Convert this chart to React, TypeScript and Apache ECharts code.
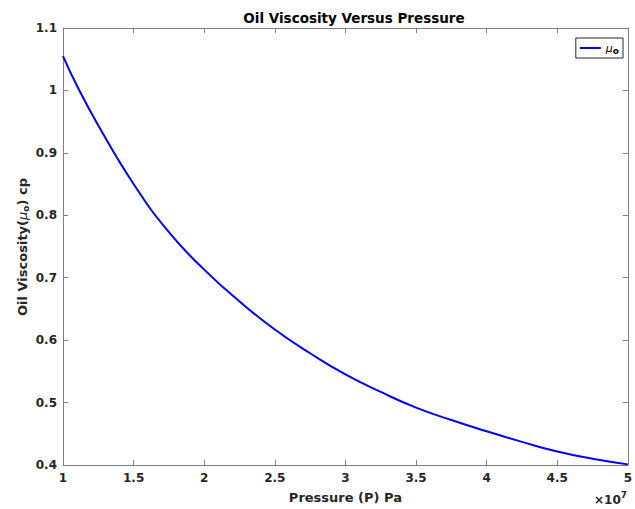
import React, { useEffect, useRef } from "react";
import * as echarts from "echarts";

// Pressure samples, in units of 1e7 Pa
const pressureE7 = [1.0, 1.1, 1.25, 1.5, 1.75, 2.0, 2.25, 2.5, 2.75, 3.0, 3.25, 3.5, 3.75, 4.0, 4.25, 4.5, 4.75, 5.0];
// Oil viscosity, cp
const viscosity = [1.055, 1.007, 0.944, 0.85, 0.773, 0.713, 0.662, 0.617, 0.579, 0.545, 0.517, 0.492, 0.472, 0.454, 0.437, 0.4215, 0.41, 0.401];

const xTicks = [1, 1.5, 2, 2.5, 3, 3.5, 4, 4.5, 5];
const yRange = [0.4, 1.1];
const SCALE = 1e7;

const FONT = "DejaVu Sans";
const INK = "#262626";
const AXIS = "#7f7f7f";

export default function App() {
  const ref = useRef<HTMLDivElement>(null);

  useEffect(() => {
    if (!ref.current) return;
    const chart = echarts.init(ref.current, null, { renderer: "svg" });
    const data = pressureE7.map((p, i) => [p * SCALE, viscosity[i]]);
    const fmtX = (v: number) => String(parseFloat((v / SCALE).toFixed(2)));
    const fmtY = (v: number) => String(parseFloat(v.toFixed(2)));

    const axisLine = { show: true, lineStyle: { color: AXIS, width: 1 } };
    const axisTick = { show: true, inside: true, length: 5, lineStyle: { color: AXIS } };
    const label = { color: INK, fontFamily: FONT, fontWeight: "bold" as const, fontSize: 12 };
    const xMin = xTicks[0] * SCALE;
    const xMax = xTicks[xTicks.length - 1] * SCALE;

    chart.setOption({
      animation: false,
      backgroundColor: "#ffffff",
      title: {
        text: "Oil Viscosity Versus Pressure",
        left: 349,
        textAlign: "center",
        top: 6,
        textStyle: { fontFamily: FONT, fontWeight: "bold", fontSize: 13.5, color: "#000" },
      },
      grid: { left: 63, right: 4, top: 28, bottom: 37, show: false },
      legend: {
        right: 12,
        top: 38,
        orient: "vertical",
        backgroundColor: "#fff",
        borderColor: INK,
        borderWidth: 1,
        borderRadius: 0,
        padding: [3, 4, 3, 4],
        itemWidth: 21,
        itemHeight: 2,
        itemGap: 0,
        icon: "rect",
        formatter: () => "{m|μ}{s|o}",
        textStyle: {
          lineHeight: 13,
          rich: {
            m: { fontFamily: FONT, fontSize: 11, color: "#000", fontStyle: "italic", lineHeight: 13 },
            s: { fontFamily: FONT, fontSize: 9, fontWeight: "bold", color: "#000", padding: [5, 0, 0, 0], lineHeight: 13 },
          },
        },
        data: [{ name: "mu" }],
      },
      xAxis: [
        {
          type: "value",
          min: xMin,
          max: xMax,
          interval: 0.5 * SCALE,
          axisLine,
          axisTick,
          splitLine: { show: false },
          axisLabel: { ...label, formatter: fmtX, margin: 7 },
          name: "Pressure (P) Pa",
          nameLocation: "middle",
          nameGap: 26,
          nameTextStyle: { fontFamily: FONT, fontWeight: "bold", fontSize: 13, color: INK },
        },
        {
          type: "value",
          position: "top",
          min: xMin,
          max: xMax,
          interval: 0.5 * SCALE,
          axisLine,
          axisTick,
          splitLine: { show: false },
          axisLabel: { show: false },
        },
      ],
      yAxis: [
        {
          type: "value",
          min: yRange[0],
          max: yRange[1],
          interval: 0.1,
          axisLine,
          axisTick,
          splitLine: { show: false },
          axisLabel: { ...label, formatter: fmtY, margin: 6 },
        },
        {
          type: "value",
          position: "right",
          min: yRange[0],
          max: yRange[1],
          interval: 0.1,
          axisLine,
          axisTick,
          splitLine: { show: false },
          axisLabel: { show: false },
        },
      ],
      graphic: [
        {
          type: "text",
          x: 22,
          y: 247,
          rotation: Math.PI / 2,
          style: {
            text: "{t|Oil Viscosity(}{m|μ}{s|o}{t|) cp}",
            align: "center",
            verticalAlign: "middle",
            rich: {
              t: { fontFamily: FONT, fontWeight: "bold", fontSize: 13, fill: INK },
              m: { fontFamily: FONT, fontSize: 13, fontStyle: "italic", fill: INK },
              s: { fontFamily: FONT, fontSize: 9, fontWeight: "bold", fill: INK, padding: [8, 0, 0, 0] },
            },
          },
        },
        {
          type: "text",
          right: 8,
          top: 490,
          style: {
            text: "{a|×10}{e|7}",
            rich: {
              a: { fontFamily: FONT, fontSize: 12, fontWeight: "bold", fill: INK, padding: [6, 0, 0, 0] },
              e: { fontFamily: FONT, fontSize: 9, fontWeight: "bold", fill: INK, padding: [0, 0, 4, 0] },
            },
          },
        },
      ],
      series: [
        {
          name: "mu",
          type: "line",
          data,
          smooth: true,
          showSymbol: false,
          symbol: "none",
          lineStyle: { color: "#0000ff", width: 2 },
          itemStyle: { color: "#0000ff" },
        },
      ],
    });

    return () => chart.dispose();
  }, []);

  return <div ref={ref} style={{ position: "fixed", left: 0, top: 0, width: 635, height: 509 }} />;
}
